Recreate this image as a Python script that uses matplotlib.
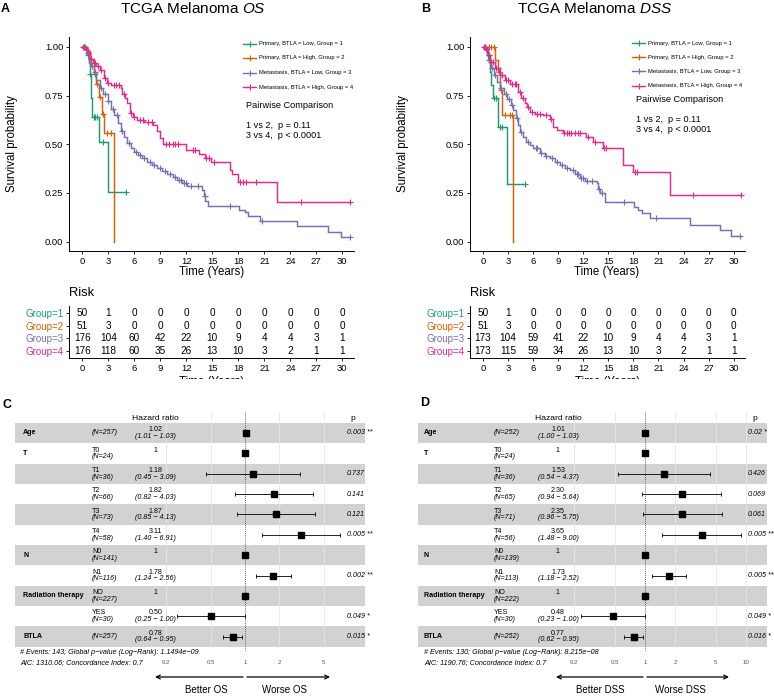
import numpy as np
import matplotlib
matplotlib.use('Agg')
import matplotlib.pyplot as plt

plt.rcParams['font.family'] = ['Liberation Sans', 'DejaVu Sans']
plt.rcParams['mathtext.fontset'] = 'custom'
plt.rcParams['mathtext.rm'] = 'Liberation Sans'
plt.rcParams['mathtext.it'] = 'Liberation Sans:italic'

# ---------------- data ----------------
group_labels = ["Primary, BTLA = Low, Group = 1", "Primary, BTLA = High, Group = 2",
                "Metastasis, BTLA = Low, Group = 3", "Metastasis, BTLA = High, Group = 4"]
risk_groups = ["Group=1", "Group=2", "Group=3", "Group=4"]
risk_times = [0, 3, 6, 9, 12, 15, 18, 21, 24, 27, 30]

# OS Kaplan-Meier steps (time in years, survival after step)
os_g1_t = [0.55, 0.75, 0.85, 0.95, 1.0, 1.1, 1.9, 2.9]
os_g1_s = [0.96, 0.92, 0.86, 0.80, 0.74, 0.64, 0.51, 0.255]
os_g1_end = 5.0
os_g1_cens = [0.2, 0.7, 0.9, 1.3, 1.5, 1.7, 2.4, 5.0]

os_g2_t = [0.5, 0.9, 1.3, 1.6, 1.9, 2.25, 2.5, 3.7]
os_g2_s = [0.98, 0.94, 0.87, 0.81, 0.745, 0.657, 0.557, 0.0]
os_g2_end = 3.7
os_g2_cens = [0.3, 1.0, 1.4, 1.7, 2.0, 2.4, 2.8, 3.3]

os_g3_t = [0.3, 0.5, 0.8, 1.0, 1.3, 1.6, 2.0, 2.4, 2.9, 3.3, 3.7, 4.1, 4.4, 4.8, 5.2, 5.6, 5.9,
           6.4, 6.9, 7.4, 8.0, 8.6, 9.2, 9.8, 10.4, 10.9, 11.5, 12.1, 13.8, 14.0, 14.2, 14.5,
           18.1, 18.8, 19.1, 20.5, 24.8, 28.3, 29.8]
os_g3_s = [0.99, 0.97, 0.93, 0.90, 0.86, 0.83, 0.79, 0.76, 0.72, 0.68, 0.65, 0.61, 0.57, 0.54,
           0.505, 0.48, 0.46, 0.445, 0.43, 0.41, 0.395, 0.38, 0.365, 0.35, 0.33, 0.315, 0.30,
           0.285, 0.265, 0.235, 0.21, 0.185, 0.165, 0.15, 0.13, 0.105, 0.078, 0.052, 0.026]
os_g3_end = 30.9
os_g3_cens = [0.2, 0.6, 1.1, 1.5, 2.2, 2.6, 3.0, 3.5, 4.0, 4.6, 5.4, 6.2, 6.6, 7.1, 7.8, 8.3,
              8.9, 9.5, 10.1, 10.7, 11.2, 11.4, 11.7, 12.0, 12.5, 13.3, 14.1, 17.0, 20.7, 30.9]

os_g4_t = [0.3, 0.6, 0.9, 1.2, 1.6, 2.0, 2.5, 2.8, 3.3, 4.4, 4.6, 4.9, 5.2, 5.5, 5.8, 6.3, 7.1,
           8.2, 8.6, 9.0, 9.3, 12.0, 13.4, 14.2, 14.8, 17.0, 17.3, 18.0, 22.5]
os_g4_s = [0.99, 0.97, 0.94, 0.92, 0.90, 0.88, 0.84, 0.815, 0.805, 0.79, 0.76, 0.74, 0.71, 0.66,
           0.64, 0.625, 0.612, 0.60, 0.57, 0.53, 0.50, 0.473, 0.448, 0.43, 0.408, 0.37, 0.345,
           0.308, 0.205]
os_g4_end = 30.9
os_g4_cens = [0.1, 0.4, 0.7, 1.0, 1.4, 1.8, 2.2, 2.6, 3.0, 3.6, 3.9, 4.2, 4.8, 5.6, 6.0, 6.6,
              7.0, 7.6, 8.0, 9.6, 10.0, 10.4, 10.7, 11.0, 12.8, 13.0, 14.3, 14.6, 15.2, 18.2,
              18.5, 18.9, 20.0, 25.2, 30.9]

os_risk_g1 = [50, 1, 0, 0, 0, 0, 0, 0, 0, 0, 0]
os_risk_g2 = [51, 3, 0, 0, 0, 0, 0, 0, 0, 0, 0]
os_risk_g3 = [176, 104, 60, 42, 22, 10, 9, 4, 4, 3, 1]
os_risk_g4 = [176, 118, 60, 35, 26, 13, 10, 3, 2, 1, 1]

# DSS Kaplan-Meier steps
dss_g1_t = [0.5, 0.65, 0.85, 1.0, 1.15, 1.85, 2.85]
dss_g1_s = [0.967, 0.933, 0.873, 0.805, 0.737, 0.59, 0.296]
dss_g1_end = 5.0
dss_g1_cens = [0.3, 0.75, 1.3, 1.6, 2.0, 2.3, 5.0]

dss_g2_t = [1.5, 1.85, 2.05, 2.3, 3.6]
dss_g2_s = [0.935, 0.873, 0.78, 0.651, 0.0]
dss_g2_end = 3.6
dss_g2_cens = [0.3, 0.7, 1.0, 1.3, 1.9, 2.2, 2.6, 3.2, 3.5]

dss_g3_t = [0.3, 0.5, 0.8, 1.0, 1.3, 1.7, 2.0, 2.5, 2.9, 3.3, 3.6, 4.0, 4.2, 4.4, 4.8, 5.2, 5.6,
            6.0, 6.8, 7.4, 8.0, 8.6, 9.2, 9.8, 10.4, 11.0, 11.6, 12.2, 13.6, 13.8, 14.0, 14.6,
            18.1, 18.6, 19.0, 20.0, 24.8, 28.4, 29.7]
dss_g3_s = [0.99, 0.96, 0.92, 0.89, 0.855, 0.82, 0.79, 0.76, 0.735, 0.70, 0.675, 0.635, 0.60,
            0.565, 0.54, 0.514, 0.495, 0.48, 0.455, 0.44, 0.428, 0.41, 0.394, 0.38, 0.368, 0.345,
            0.325, 0.31, 0.30, 0.27, 0.248, 0.205, 0.18, 0.16, 0.146, 0.12, 0.088, 0.059, 0.029]
dss_g3_end = 30.7
dss_g3_cens = [0.2, 0.7, 1.1, 1.5, 2.2, 2.7, 3.1, 3.5, 4.1, 4.6, 5.4, 6.3, 6.5, 7.0, 7.6, 8.3,
               8.9, 9.5, 10.1, 10.8, 11.2, 11.4, 11.7, 12.0, 12.5, 13.0, 13.9, 14.2, 16.9, 20.7, 30.7]

dss_g4_t = [0.3, 0.6, 0.9, 1.4, 2.0, 2.6, 3.2, 4.2, 4.6, 5.0, 5.3, 5.6, 6.2, 7.2, 8.0, 8.4, 8.8,
            9.6, 12.3, 13.2, 14.4, 16.8, 18.0, 22.4]
dss_g4_s = [0.99, 0.96, 0.925, 0.89, 0.856, 0.83, 0.808, 0.77, 0.737, 0.71, 0.69, 0.668, 0.658,
            0.648, 0.632, 0.59, 0.574, 0.556, 0.535, 0.51, 0.48, 0.394, 0.36, 0.24]
dss_g4_end = 30.9
dss_g4_cens = [0.1, 0.4, 0.7, 1.0, 1.2, 1.6, 1.8, 2.3, 2.8, 3.0, 3.5, 3.8, 4.0, 4.4, 4.8, 5.4,
               5.9, 6.5, 6.8, 7.5, 8.2, 9.7, 10.0, 10.3, 10.5, 11.0, 11.4, 11.6, 12.6, 13.4,
               14.5, 14.7, 18.2, 18.4, 25.1, 30.9]

dss_risk_g1 = [50, 1, 0, 0, 0, 0, 0, 0, 0, 0, 0]
dss_risk_g2 = [51, 3, 0, 0, 0, 0, 0, 0, 0, 0, 0]
dss_risk_g3 = [173, 104, 59, 41, 22, 10, 9, 4, 4, 3, 1]
dss_risk_g4 = [173, 115, 59, 34, 26, 13, 10, 3, 2, 1, 1]

# Forest plot data
fp_var = ["Age", "T", "", "", "", "", "N", "", "Radiation therapy", "", "BTLA"]
fp_level = ["", "T0", "T1", "T2", "T3", "T4", "N0", "N1", "NO", "YES", ""]

os_n = [257, 24, 36, 66, 73, 58, 141, 116, 227, 30, 257]
os_hr = [1.02, 1, 1.18, 1.82, 1.87, 3.11, 1, 1.78, 1, 0.50, 0.78]
os_lo = [1.01, None, 0.45, 0.82, 0.85, 1.40, None, 1.24, None, 0.25, 0.64]
os_hi = [1.03, None, 3.09, 4.03, 4.13, 6.91, None, 2.56, None, 1.00, 0.95]
os_p = ["0.003", "", "0.737", "0.141", "0.121", "0.005", "", "0.002", "", "0.049", "0.015"]
os_stars = ["**", "", "", "", "", "**", "", "**", "", "*", "*"]
os_footer = ["# Events: 143; Global p\u2212value (Log\u2212Rank): 1.1494e\u221209",
             "AIC: 1310.06; Concordance Index: 0.7"]
os_breaks = [0.2, 0.5, 1, 2, 5]

dss_n = [252, 24, 36, 65, 71, 56, 139, 113, 222, 30, 252]
dss_hr = [1.01, 1, 1.53, 2.30, 2.35, 3.65, 1, 1.73, 1, 0.48, 0.77]
dss_lo = [1.00, None, 0.54, 0.94, 0.96, 1.48, None, 1.18, None, 0.23, 0.62]
dss_hi = [1.03, None, 4.37, 5.64, 5.75, 9.00, None, 2.52, None, 1.00, 0.95]
dss_p = ["0.02", "", "0.426", "0.069", "0.061", "0.005", "", "0.005", "", "0.049", "0.016"]
dss_stars = ["*", "", "", "", "", "**", "", "**", "", "*", "*"]
dss_footer = ["# Events: 130; Global p\u2212value (Log\u2212Rank): 8.215e\u221208",
              "AIC: 1190.76; Concordance Index: 0.7"]
dss_breaks = [0.2, 0.5, 1, 2, 5, 10]

COLORS = ['#1B9E77', '#D95F02', '#7570B3', '#E7298A']

# ---------------- figure ----------------
W, H = 774, 700
fig = plt.figure(figsize=(W / 100, H / 100), dpi=100)


def add_px_axes(x0, y0, x1, y1):
    return fig.add_axes([x0 / W, 1 - y1 / H, (x1 - x0) / W, (y1 - y0) / H])


XLIM = (-1.55, 31.35)


def style_axes(ax):
    for s in ['top', 'right']:
        ax.spines[s].set_visible(False)
    for s in ['left', 'bottom']:
        ax.spines[s].set_linewidth(0.7)
        ax.spines[s].set_color('black')
    ax.tick_params(length=2.5, width=0.6, pad=1.5, labelsize=6.8, colors='black')


def draw_km(ax, groups):
    for k, (t, s, end, cens) in enumerate(groups):
        tt = np.r_[0.0, t, end]
        ss = np.r_[1.0, s, s[-1]]
        ax.step(tt, ss, where='post', color=COLORS[k], lw=1.05, solid_joinstyle='miter')
        ct = np.asarray(cens, dtype=float)
        idx = np.searchsorted(tt[:-1], ct, side='right') - 1
        ax.plot(ct, ss[idx], '+', color=COLORS[k], ms=4.8, mew=0.8, ls='none')
    ax.set_xlim(*XLIM)
    ax.set_ylim(-0.048, 1.051)
    ax.set_xticks(risk_times)
    ax.set_yticks([0, 0.25, 0.5, 0.75, 1.0])
    ax.set_yticklabels(['0.00', '0.25', '0.50', '0.75', '1.00'])
    style_axes(ax)


def draw_risk(ax, risks):
    for k, r in enumerate(risks):
        for t, n in zip(risk_times, r):
            ax.text(t, k + 1, str(n), ha='center', va='center', fontsize=7.2)
    ax.set_xlim(*XLIM)
    ax.set_ylim(4.55, 0.45)
    ax.set_xticks(risk_times)
    ax.set_yticks([1, 2, 3, 4])
    ax.set_yticklabels(risk_groups)
    style_axes(ax)
    ax.tick_params(axis='y', labelsize=7.0)
    for lab, c in zip(ax.get_yticklabels(), COLORS):
        lab.set_color(c)
    ax.text(0.5, -0.47, "Time (Years)", transform=ax.transAxes, ha='center', va='center',
            fontsize=8.3)


# KM panel A
axA = add_px_axes(69, 37, 354, 251)
draw_km(axA, [(os_g1_t, os_g1_s, os_g1_end, os_g1_cens),
              (os_g2_t, os_g2_s, os_g2_end, os_g2_cens),
              (os_g3_t, os_g3_s, os_g3_end, os_g3_cens),
              (os_g4_t, os_g4_s, os_g4_end, os_g4_cens)])
rA = add_px_axes(69, 306, 354, 358)
draw_risk(rA, [os_risk_g1, os_risk_g2, os_risk_g3, os_risk_g4])

# KM panel B
axB = add_px_axes(470, 37, 745, 251)
draw_km(axB, [(dss_g1_t, dss_g1_s, dss_g1_end, dss_g1_cens),
              (dss_g2_t, dss_g2_s, dss_g2_end, dss_g2_cens),
              (dss_g3_t, dss_g3_s, dss_g3_end, dss_g3_cens),
              (dss_g4_t, dss_g4_s, dss_g4_end, dss_g4_cens)])
rB = add_px_axes(470, 306, 745, 358)
draw_risk(rB, [dss_risk_g1, dss_risk_g2, dss_risk_g3, dss_risk_g4])

# white cover (forest panels overlap the risk-table x title)
cover = add_px_axes(0, 379, W, H)
cover.set_xticks([]); cover.set_yticks([])
for s in cover.spines.values():
    s.set_visible(False)
cover.set_facecolor('white')
cover.set_zorder(1)

FS = 5.1


def draw_forest(x_off, c1, scale, band_x0, band_x1, var_x, n_x, hr_x, p_x, phead_x,
                foot_x, n, hr, lo, hi, p, stars, footer, breaks, outcome, arrows, better_x,
                worse_x):
    ax = add_px_axes(x_off, 395, x_off + 387, 700)
    ax.set_zorder(2)
    ax.axis('off')
    ax.set_xscale('log')
    ax.set_xlim(10 ** ((0 - c1) / scale), 10 ** ((387 - c1) / scale))
    ax.set_ylim(700, 395)

    def hx(px):
        return 10 ** ((px - c1) / scale)

    row_h = 20.36
    rows_y = [433 + i * row_h for i in range(len(hr))]
    for i, y in enumerate(rows_y):
        if i % 2 == 0:
            ax.axhspan(y - row_h / 2, y + row_h / 2, xmin=band_x0 / 387, xmax=band_x1 / 387,
                       color='#D2D2D2', lw=0, zorder=0)
    top, bot = 412, rows_y[-1] + row_h / 2
    for b in breaks:
        if b != 1:
            ax.plot([b, b], [top, bot], color='#E6E6E6', lw=0.6, zorder=1)
    ax.plot([1, 1], [top, bot + 3], color='#333333', lw=0.6, ls=(0, (1, 1.5)), zorder=2)

    ax.text(hx(hr_x), 418, "Hazard ratio", ha='center', va='center', fontsize=6.1)
    ax.text(hx(phead_x), 418, "p", ha='center', va='center', fontsize=6.1)

    for i, y in enumerate(rows_y):
        if fp_var[i]:
            ax.text(hx(var_x), y, fp_var[i], ha='left', va='center', fontsize=FS,
                    fontweight='bold')
        if fp_level[i]:
            ax.text(hx(n_x), y - 3.3, fp_level[i], ha='left', va='center', fontsize=FS)
            ax.text(hx(n_x), y + 3.3, "(N=%d)" % n[i], ha='left', va='center', fontsize=FS,
                    style='italic')
        else:
            ax.text(hx(n_x), y, "(N=%d)" % n[i], ha='left', va='center', fontsize=FS,
                    style='italic')
        if lo[i] is None:
            ax.text(hx(hr_x), y - 3.3, "1", ha='center', va='center', fontsize=FS)
            ax.plot([hr[i]], [y], 's', color='black', ms=4.2, zorder=4)
        else:
            ax.text(hx(hr_x), y - 3.3, "%.2f" % hr[i], ha='center', va='center', fontsize=FS)
            ax.text(hx(hr_x), y + 3.3, "(%.2f \u2212 %.2f)" % (lo[i], hi[i]), ha='center',
                    va='center', fontsize=FS, style='italic')
            ax.errorbar([hr[i]], [y], xerr=[[hr[i] - lo[i]], [hi[i] - hr[i]]], fmt='s',
                        color='black', ms=4.2, elinewidth=0.6, capsize=1.5, capthick=0.6,
                        zorder=4)
            lab = p[i] + (" " + stars[i] if stars[i] else "")
            ax.text(hx(p_x), y, lab, ha='left', va='center', fontsize=FS, style='italic')

    ax.text(hx(foot_x), 653, footer[0], ha='left', va='center', fontsize=5.2, style='italic')
    ax.text(hx(foot_x), 663, footer[1], ha='left', va='center', fontsize=5.2, style='italic')
    for b in breaks:
        ax.text(b, 663, "%g" % b, ha='center', va='center', fontsize=4.4, color='#555555')

    (l0, l1), (r0, r1) = arrows
    ax.annotate("", xy=(hx(l1), 677), xytext=(hx(l0), 677),
                arrowprops=dict(arrowstyle='->', lw=0.9, color='black',
                                shrinkA=0, shrinkB=0, mutation_scale=7))
    ax.annotate("", xy=(hx(r1), 677), xytext=(hx(r0), 677),
                arrowprops=dict(arrowstyle='->', lw=0.9, color='black',
                                shrinkA=0, shrinkB=0, mutation_scale=7))
    ax.text(hx(better_x), 690, "Better " + outcome, ha='center', va='center', fontsize=7)
    ax.text(hx(worse_x), 690, "Worse " + outcome, ha='center', va='center', fontsize=7)
    return ax


draw_forest(0, 245, 113, 15, 365, 23, 92, 155.5, 347, 353, 20,
            os_n, os_hr, os_lo, os_hi, os_p, os_stars, os_footer, os_breaks, "OS",
            ((243, 155), (247, 330)), 206, 284)
draw_forest(387, 258, 101, 31, 380, 37, 107, 171, 361, 368, 37,
            dss_n, dss_hr, dss_lo, dss_hi, dss_p, dss_stars, dss_footer, dss_breaks, "DSS",
            ((256, 169), (260, 342)), 213, 293)

# overlay for free text
ov = add_px_axes(0, 0, W, H)
ov.set_xlim(0, W)
ov.set_ylim(H, 0)
ov.axis('off')
ov.set_zorder(3)

ov.text(5, 8.5, "A", fontsize=9, fontweight='bold', ha='center', va='center')
ov.text(426, 8.5, "B", fontsize=9, fontweight='bold', ha='center', va='center')
ov.text(7, 405, "C", fontsize=9, fontweight='bold', ha='center', va='center')
ov.text(425, 403, "D", fontsize=9, fontweight='bold', ha='center', va='center')

ov.text(193, 8.5, r"TCGA Melanoma $\mathit{OS}$", fontsize=11, ha='center', va='center')
ov.text(595, 8.5, r"TCGA Melanoma $\mathit{DSS}$", fontsize=11, ha='center', va='center')

for xc, yc in [(12, 144), (403, 144)]:
    ov.text(xc, yc, "Survival probability", rotation=90, fontsize=8.3, ha='center',
            va='center')
ov.text(212, 272, "Time (Years)", fontsize=8.3, ha='center', va='center')
ov.text(607, 272, "Time (Years)", fontsize=8.3, ha='center', va='center')
ov.text(69, 293, "Risk", fontsize=9.3, ha='left', va='center')
ov.text(470, 293, "Risk", fontsize=9.3, ha='left', va='center')

# legends
for (lx0, lx1, tx, ys) in [(243, 256, 259, [44, 58, 72.5, 87]),
                           (632, 645, 648, [43, 57, 71, 86])]:
    for k, y in enumerate(ys):
        ov.plot([lx0, lx1], [y, y], color=COLORS[k], lw=1.0)
        ov.plot([(lx0 + lx1) / 2], [y], '+', color=COLORS[k], ms=4.5, mew=0.8)
        ov.text(tx, y, group_labels[k], fontsize=4.2, ha='left', va='center')

for (px, y0, y1, y2) in [(245.5, 105, 125, 135), (636, 100, 120, 130)]:
    ov.text(px, y0, "Pairwise Comparison", fontsize=6.6, ha='left', va='center')
    ov.text(px, y1, "1 vs 2,  p = 0.11", fontsize=6.6, ha='left', va='center')
    ov.text(px, y2, "3 vs 4,  p < 0.0001", fontsize=6.6, ha='left', va='center')

fig.savefig("out.png", dpi=100)
